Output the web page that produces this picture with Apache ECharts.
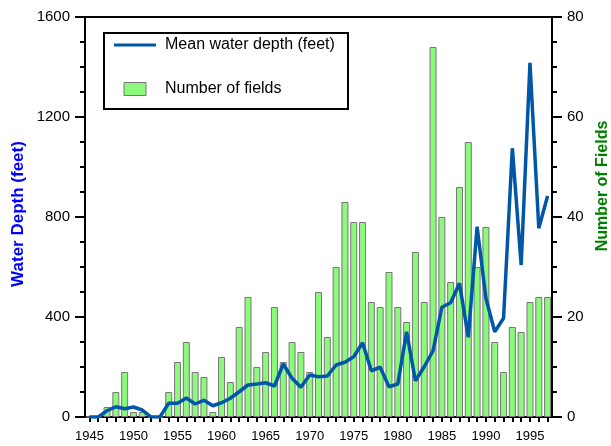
<!DOCTYPE html>
<html>
<head>
<meta charset="utf-8">
<script src="https://cdn.jsdelivr.net/npm/echarts@6/dist/echarts.min.js"></script>
<style>
  html, body { margin: 0; padding: 0; background: #fff; }
  #chart { width: 611px; height: 446px; }
</style>
</head>
<body>
<div id="chart"></div>
<script>
// Years of discovery
const years = [];
for (let y = 1945; y <= 1997; y++) years.push(String(y));

// Number of fields discovered per year (right axis)
const fieldCounts = [
  0, 0, 2, 5, 9, 1, 1, 0, 0, 5,
  11, 15, 9, 8, 1, 12, 7, 18, 24, 10,
  13, 22, 11, 15, 13, 9, 25, 16, 30, 43,
  39, 39, 23, 22, 29, 22, 19, 33, 23, 74,
  40, 27, 46, 55, 30, 38, 15, 9, 18, 17,
  23, 24, 24
];

// Mean water depth in feet (left axis)
const meanDepth = [
  0, 0, 25, 41, 33, 40, 28, 0, 0, 55,
  55, 76, 52, 67, 45, 57, 75, 101, 128, 132,
  137, 124, 212, 155, 119, 168, 161, 164, 208, 219,
  241, 297, 185, 199, 121, 132, 341, 145, 201, 265,
  439, 457, 535, 319, 761, 475, 341, 395, 1075, 608,
  1417, 755, 884
];

const depthTicks = [0, 400, 800, 1200, 1600];
const fieldTicks = [0, 20, 40, 60, 80];

const FONT = "Arial, 'Liberation Sans', sans-serif";
const LINE_BLUE = '#0057A8';
const BAR_GREEN = '#8CF97C';
const TICK = { color: '#000', width: 2 };

const chart = echarts.init(document.getElementById('chart'), null, { renderer: 'canvas' });

const majorEvery5 = (idx) => (Number(years[idx]) % 5 === 0);
const plain = (v) => String(v);

const option = {
  animation: false,
  backgroundColor: '#fff',
  grid: {
    left: 85, right: 59, top: 17, bottom: 29,
    show: true, borderColor: '#000', borderWidth: 2, backgroundColor: 'transparent'
  },
  xAxis: [
    {
      // labelled axis with long ticks every five years
      type: 'category', data: years, boundaryGap: true, position: 'bottom',
      axisLine: { lineStyle: { color: '#000', width: 2 } },
      axisTick: { alignWithLabel: true, interval: majorEvery5, length: 10, lineStyle: TICK },
      axisLabel: { interval: majorEvery5, margin: 13, color: '#000', fontSize: 13, fontFamily: FONT },
      splitLine: { show: false }
    },
    {
      // short ticks for every year
      type: 'category', data: years, boundaryGap: true, position: 'bottom',
      axisLine: { show: true, lineStyle: { color: 'rgba(0,0,0,0)', width: 2 } },
      axisTick: { show: true, alignWithLabel: true, interval: 0, length: 5, lineStyle: TICK },
      axisLabel: { show: false },
      splitLine: { show: false }
    }
  ],
  yAxis: [
    {
      type: 'value', min: depthTicks[0], max: depthTicks[depthTicks.length - 1], interval: 400,
      position: 'left',
      axisLine: { show: true, lineStyle: { color: '#000', width: 2 } },
      axisTick: { show: true, length: 10, lineStyle: TICK },
      minorTick: { show: true, splitNumber: 4, length: 5, lineStyle: TICK },
      axisLabel: { margin: 15, color: '#000', fontSize: 15, fontFamily: FONT, formatter: plain },
      splitLine: { show: false }
    },
    {
      type: 'value', min: fieldTicks[0], max: fieldTicks[fieldTicks.length - 1], interval: 20,
      position: 'right',
      axisLine: { show: true, lineStyle: { color: '#000', width: 2 } },
      axisTick: { show: true, length: 10, lineStyle: TICK },
      axisLabel: { margin: 15, color: '#000', fontSize: 15, fontFamily: FONT, formatter: plain },
      splitLine: { show: false }
    },
    {
      // short ticks every 5 fields on the right side
      type: 'value', position: 'right', min: 0, max: 80, interval: 5,
      axisLine: { show: true, lineStyle: { color: 'rgba(0,0,0,0)', width: 2 } },
      axisTick: { show: true, length: 5, lineStyle: TICK },
      axisLabel: { show: false },
      splitLine: { show: false }
    }
  ],
  legend: {
    orient: 'vertical', left: 114, top: 37, padding: 0,
    itemWidth: 42, itemHeight: 13, itemGap: 28,
    textStyle: { fontSize: 16, color: '#000', fontFamily: FONT, padding: [0, 0, 0, 4] },
    selectedMode: false,
    data: [
      { name: 'Mean water depth (feet)', icon: 'path://M0 0H42V3H0Z',
        itemStyle: { color: LINE_BLUE, borderWidth: 0 } },
      { name: 'Number of fields', icon: 'path://M0 0H22V13H0Z',
        itemStyle: { color: BAR_GREEN, borderColor: '#777', borderWidth: 1 } }
    ]
  },
  graphic: [
    {
      type: 'rect', left: 103, top: 32, z: 0,
      shape: { width: 244, height: 76 },
      style: { fill: '#fff', stroke: '#000', lineWidth: 2 }
    },
    {
      type: 'text', x: 18.5, y: 214, rotation: Math.PI / 2,
      style: { text: 'Water Depth (feet)', fill: '#0000FF', font: 'bold 17px ' + FONT,
               align: 'center', verticalAlign: 'middle' }
    },
    {
      type: 'text', x: 603, y: 186, rotation: Math.PI / 2,
      style: { text: 'Number of Fields', fill: '#008000', font: 'bold 16px ' + FONT,
               align: 'center', verticalAlign: 'middle' }
    }
  ],
  series: [
    {
      name: 'Number of fields', type: 'bar', xAxisIndex: 0, yAxisIndex: 1,
      data: fieldCounts, barWidth: 7, z: 2,
      itemStyle: { color: BAR_GREEN, borderColor: '#777', borderWidth: 1 }
    },
    {
      name: 'Mean water depth (feet)', type: 'line', xAxisIndex: 0, yAxisIndex: 0,
      data: meanDepth, symbol: 'none', z: 3,
      lineStyle: { color: LINE_BLUE, width: 3.5 },
      itemStyle: { color: LINE_BLUE }
    },
    {
      // empty series that keeps the minor-tick axes bound to the grid
      name: 'minor-ticks', type: 'line', xAxisIndex: 1, yAxisIndex: 2,
      data: [], symbol: 'none', silent: true
    }
  ]
};

chart.setOption(option);
</script>
</body>
</html>
